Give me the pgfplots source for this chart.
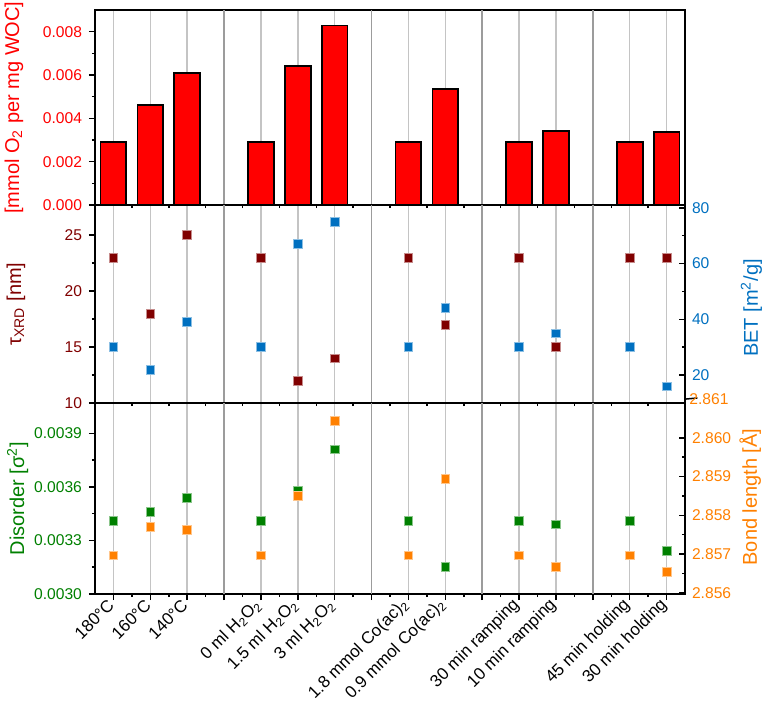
\documentclass[border=0pt]{standalone}
\usepackage{fontspec}
\setmainfont{Liberation Sans}
\usepackage{pgfplots}
\usepackage{pgfplotstable}
\pgfplotsset{compat=1.18}
\definecolor{barred}{HTML}{FF0000}
\definecolor{maroon}{HTML}{800000}
\definecolor{betblue}{HTML}{0070C0}
\definecolor{dgreen}{HTML}{008000}
\definecolor{orng}{HTML}{FF8000}
\definecolor{gridcat}{HTML}{C4C4C4}
\definecolor{gridgap}{HTML}{9C9C9C}
\newcommand{\tsz}{\fontsize{7.8}{9}\selectfont}
\newcommand{\lsz}{\fontsize{10}{12}\selectfont}
\newcommand{\xsz}{\fontsize{8.5}{10}\selectfont}
\pgfplotsset{
  common/.style={scale only axis, width=295pt, xmin=-0.5, xmax=15.5,
    scaled ticks=false,
    /pgf/number format/assume math mode=true,
    yticklabel style={font=\tsz},
    axis line style={line width=1pt},
    tick style={line width=0.75pt, black},
    major tick length=3pt, minor tick length=1.6pt,
    clip=false},
  leftax/.style={common,
    xtick={0,1,2,4,5,6,8,9,11,12,14,15},
    minor xtick={0.5,1.5,...,14.5},
    extra x ticks={3,7,10,13},
    extra x tick labels={},
    extra x tick style={grid=major, major grid style={color=gridgap, line width=0.8pt}},
    xmajorgrids, major grid style={color=gridcat, line width=0.8pt},
    xticklabels={},
    tick align=outside, xtick pos=bottom, ytick pos=left,
    minor y tick num=1},
  rightax/.style={common, axis x line=none, axis y line*=right,
    ytick pos=right, tick align=inside, minor y tick num=1},
  mk/.style={only marks, mark=square*, mark size=2.2pt,
    mark options={fill=#1, draw=#1!45!white, line width=0.35pt}},
}
\pgfplotstableread{
x y
0 2.85697
1 2.85770
2 2.85762
4 2.85697
5 2.85851
6 2.86044
8 2.85697
9 2.85895
11 2.85697
12 2.85667
14 2.85697
15 2.85654
}\bondtab
\begin{document}
\begin{tikzpicture}
\path[use as bounding box] (0,0) rectangle (382.5pt,-353pt);
% Panel 1
\begin{axis}[leftax, at={(47.5pt,-5pt)}, anchor=north west, height=97.5pt,
  ymin=0, ymax=0.009, ytick={0,0.002,0.004,0.006,0.008},
  yticklabel style={text=barred, /pgf/number format/fixed, /pgf/number format/fixed zerofill, /pgf/number format/precision=3},
  ylabel={[mmol O\textsubscript{2} per mg WOC]},
  ylabel style={font=\lsz, text=barred, at={(axis description cs:-0.1288,0.5)}, anchor=base}]
\addplot[ybar, bar width=0.7, fill=barred, draw=black, line width=0.9pt] coordinates {
(0,0.0029) (1,0.00463) (2,0.00608) (4,0.0029) (5,0.00642) (6,0.00828)
(8,0.0029) (9,0.00536) (11,0.0029) (12,0.00343) (14,0.0029) (15,0.00337)};
\end{axis}
% Panel 2 left
\begin{axis}[leftax, at={(47.5pt,-102.5pt)}, anchor=north west, height=99pt,
  ymin=10, ymax=27.7, ytick={10,15,20,25},
  yticklabel style={text=maroon},
  ylabel={τ\textsubscript{XRD} [nm]},
  ylabel style={font=\lsz, text=maroon, at={(axis description cs:-0.1254,0.5)}, anchor=base}]
\addplot[mk=maroon] coordinates {
(0,23) (1,18) (2,25) (4,23) (5,12) (6,14) (8,23) (9,17) (11,23) (12,15) (14,23) (15,23)};
\end{axis}
% Panel 2 right
\begin{axis}[rightax, at={(47.5pt,-102.5pt)}, anchor=north west, height=99pt,
  ymin=10, ymax=81, ytick={20,40,60,80},
  yticklabel style={text=betblue},
  ylabel={BET [m\textsuperscript{2}/g]},
  ylabel style={font=\lsz, text=betblue, at={(axis description cs:1.1237,0.48)}, anchor=base}]
\addplot[mk=betblue] coordinates {
(0,30) (1,22) (2,39) (4,30) (5,67) (6,75) (8,30) (9,44) (11,30) (12,35) (14,30) (15,16)};
\end{axis}
% Panel 3 left
\begin{axis}[leftax, at={(47.5pt,-201.5pt)}, anchor=north west, height=95.5pt,
  ymin=0.0030, ymax=0.00407, ytick={0.0030,0.0033,0.0036,0.0039},
  yticklabel style={text=dgreen, /pgf/number format/fixed, /pgf/number format/fixed zerofill, /pgf/number format/precision=4},
  xticklabels={180°C,160°C,140°C,0 ml H\textsubscript{2}O\textsubscript{2},1.5 ml H\textsubscript{2}O\textsubscript{2},3 ml H\textsubscript{2}O\textsubscript{2},1.8 mmol Co(ac)\textsubscript{2},0.9 mmol Co(ac)\textsubscript{2},30 min ramping,10 min ramping,45 min holding,30 min holding},
  xticklabel style={font=\xsz, rotate=45, anchor=east, inner sep=1.5pt},
  ylabel={Disorder [σ\textsuperscript{2}]},
  ylabel style={font=\lsz, text=dgreen, at={(axis description cs:-0.1203,0.5)}, anchor=base}]
\addplot[mk=dgreen] coordinates {
(0,0.00341) (1,0.00346) (2,0.00354) (4,0.00341) (5,0.00358) (6,0.00381)
(8,0.00341) (9,0.00315) (11,0.00341) (12,0.00339) (14,0.00341) (15,0.00324)};
\end{axis}
% Panel 3 right (bond length, axis in units of 0.001 above 2.856)
\begin{axis}[rightax, at={(47.5pt,-201.5pt)}, anchor=north west, height=95.5pt,
  ymin=-0.03, ymax=4.9, ytick={0,1,2,3,4},
  yticklabels={2.856,2.857,2.858,2.859,2.860},
  yticklabel style={text=orng},
  ylabel={Bond length [Å]},
  ylabel style={font=\lsz, text=orng, at={(axis description cs:1.1220,0.508)}, anchor=base}]
\addplot[mk=orng] table[x=x, y expr={(\thisrow{y}-2.856)*1000}] {\bondtab};
\draw[line width=0.75pt] (axis cs:15.5,5) -- ++(-3pt,0);
\node[anchor=west, text=orng, font=\tsz, inner sep=2pt] at (axis cs:15.5,5) {2.861};
\end{axis}
\end{tikzpicture}
\end{document}
